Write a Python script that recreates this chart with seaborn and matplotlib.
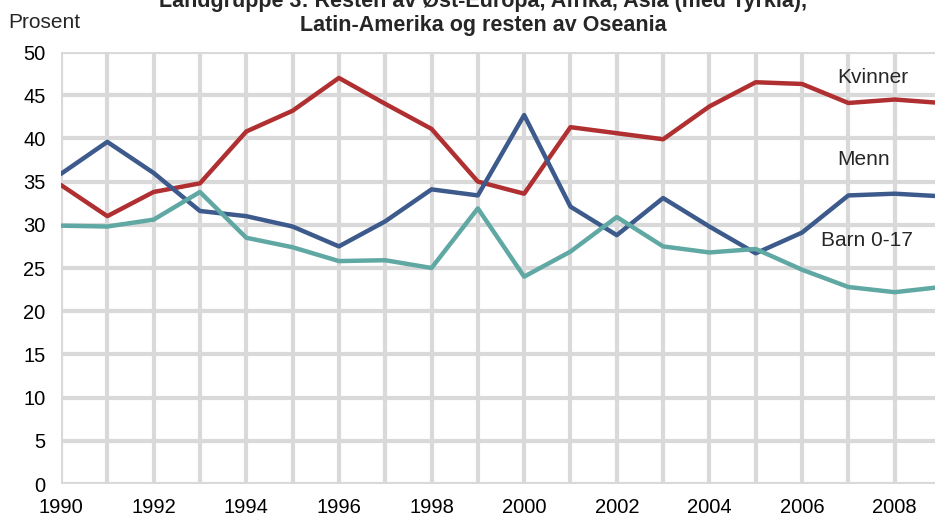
import numpy as np
import pandas as pd
import seaborn as sns
import matplotlib.pyplot as plt

years = list(range(1990, 2010))
kvinner = [34.6, 31.0, 33.8, 34.8, 40.8, 43.2, 47.0, 44.0, 41.1, 35.0,
           33.6, 41.3, 40.6, 39.9, 43.7, 46.5, 46.3, 44.1, 44.5, 44.1]
menn = [35.9, 39.6, 36.0, 31.6, 31.0, 29.8, 27.5, 30.4, 34.1, 33.4,
        42.7, 32.1, 28.8, 33.1, 29.8, 26.7, 29.1, 33.4, 33.6, 33.3]
barn = [29.9, 29.8, 30.6, 33.8, 28.5, 27.4, 25.8, 25.9, 25.0, 31.9,
        24.0, 26.9, 30.9, 27.5, 26.8, 27.2, 24.8, 22.8, 22.2, 22.8]
series_names = ["Kvinner", "Menn", "Barn 0-17"]
colors = ["#b02f31", "#3d5a8c", "#60a8a3"]

df = pd.DataFrame({
    "År": years * 3,
    "Prosent": kvinner + menn + barn,
    "Gruppe": sum([[n] * len(years) for n in series_names], []),
})

sns.set_theme(style="white")
plt.rcParams["font.family"] = ["Liberation Sans", "DejaVu Sans"]

fig = plt.figure(figsize=(9.35, 5.16), dpi=100)
ax = fig.add_axes([61 / 935, 1 - 484 / 516, 880 / 935, 432 / 516])

sns.lineplot(data=df, x="År", y="Prosent", hue="Gruppe",
             palette=dict(zip(series_names, colors)), linewidth=3.2,
             legend=False, ax=ax, zorder=3)

ax.set_xlim(1990, 2009)
ax.set_ylim(0, 50)
ax.set_xticks(years)
ax.set_xticklabels([str(y) if y % 2 == 0 else "" for y in years])
ax.set_yticks(range(0, 51, 5))
ax.grid(True, color="#d9d9d9", linewidth=3)
ax.set_axisbelow(True)
for s in ax.spines.values():
    s.set_visible(False)
ax.tick_params(axis="both", length=0, labelsize=14.5, colors="black")
ax.tick_params(axis="x", pad=10)
ax.tick_params(axis="y", pad=11)
ax.set_xlabel("")
ax.set_ylabel("")

# Serienavn direkte i plottet
ax.text(2006.76, 47.1, "Kvinner", fontsize=15, va="center", ha="left")
ax.text(2006.76, 37.6, "Menn", fontsize=15, va="center", ha="left")
ax.text(2006.41, 28.2, "Barn 0-17", fontsize=15, va="center", ha="left")

fig.text(8 / 935, 1 - 23 / 516, "Prosent", fontsize=15, va="center", ha="left")
fig.text(483 / 935, 1 - 1 / 516,
         "Landgruppe 3: Resten av Øst-Europa, Afrika, Asia (med Tyrkia),",
         fontsize=15.5, fontweight="bold", ha="center", va="center")
fig.text(483 / 935, 1 - 25 / 516, "Latin-Amerika og resten av Oseania",
         fontsize=15.5, fontweight="bold", ha="center", va="center")

fig.savefig("out.png", dpi=100)
